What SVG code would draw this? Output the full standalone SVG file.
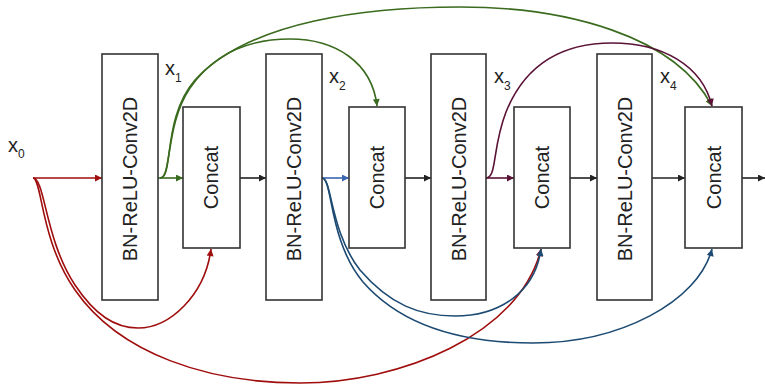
<svg xmlns="http://www.w3.org/2000/svg" width="765" height="387" viewBox="0 0 765 387">
<style>
.box{fill:#fff;stroke:#333;stroke-width:1.6}
.lbl{font-family:"Liberation Sans",Arial,sans-serif;font-size:20px;fill:#222;text-anchor:middle}
.var{font-family:"Liberation Sans",Arial,sans-serif;font-size:20px;fill:#222}
.sub{font-size:12px}
.c{fill:none;stroke-width:1.6}
.red{stroke:#a00d0d}.grn{stroke:#3a6b1e}.blu{stroke:#1c4a72}.blt{stroke:#3b67b0}.pur{stroke:#5a1236}.blk{stroke:#222}
</style>
<defs>
<marker id="ar-red" viewBox="0 0 10 10" refX="10" refY="5" markerWidth="10" markerHeight="7" markerUnits="userSpaceOnUse" orient="auto"><path d="M0,0 L10,5 L0,10 z" fill="#a00d0d"/></marker>
<marker id="ar-grn" viewBox="0 0 10 10" refX="10" refY="5" markerWidth="10" markerHeight="7" markerUnits="userSpaceOnUse" orient="auto"><path d="M0,0 L10,5 L0,10 z" fill="#3a6b1e"/></marker>
<marker id="ar-blu" viewBox="0 0 10 10" refX="10" refY="5" markerWidth="10" markerHeight="7" markerUnits="userSpaceOnUse" orient="auto"><path d="M0,0 L10,5 L0,10 z" fill="#1c4a72"/></marker>
<marker id="ar-blt" viewBox="0 0 10 10" refX="10" refY="5" markerWidth="10" markerHeight="7" markerUnits="userSpaceOnUse" orient="auto"><path d="M0,0 L10,5 L0,10 z" fill="#3b67b0"/></marker>
<marker id="ar-pur" viewBox="0 0 10 10" refX="10" refY="5" markerWidth="10" markerHeight="7" markerUnits="userSpaceOnUse" orient="auto"><path d="M0,0 L10,5 L0,10 z" fill="#5a1236"/></marker>
<marker id="ar-blk" viewBox="0 0 10 10" refX="10" refY="5" markerWidth="10" markerHeight="7" markerUnits="userSpaceOnUse" orient="auto"><path d="M0,0 L10,5 L0,10 z" fill="#222"/></marker>
</defs>

<g id="connectors">
  <!-- main chain -->
  <line class="c red" x1="33" y1="178" x2="102" y2="178" marker-end="url(#ar-red)"/>
  <line class="c grn" x1="158" y1="178" x2="183" y2="178" marker-end="url(#ar-grn)"/>
  <line class="c blk" x1="240" y1="178" x2="266" y2="178" marker-end="url(#ar-blk)"/>
  <line class="c blt" x1="322" y1="178" x2="349" y2="178" marker-end="url(#ar-blt)"/>
  <line class="c blk" x1="405" y1="178" x2="431" y2="178" marker-end="url(#ar-blk)"/>
  <line class="c pur" x1="486" y1="178" x2="514" y2="178" marker-end="url(#ar-pur)"/>
  <line class="c blk" x1="570" y1="178" x2="597" y2="178" marker-end="url(#ar-blk)"/>
  <line class="c blk" x1="652" y1="178" x2="685" y2="178" marker-end="url(#ar-blk)"/>
  <line class="c blk" x1="742" y1="178" x2="765" y2="178" marker-end="url(#ar-blk)"/>
  <!-- x0 skip connections -->
  <path class="c red" d="M33,178 C45,178 45,240 75,285 C95,315 115,328 138,328 C170,328 205,295 211,249" marker-end="url(#ar-red)"/>
  <path class="c red" d="M33,178 C42,178 40,240 75,290 C120,355 210,383 300,383 C400,383 520,335 541,249" marker-end="url(#ar-red)"/>
  <!-- x1 skip connections -->
  <path class="c grn" d="M160,178 C172,178 165,125 190,88 C215,52 250,39 290,39 C335,39 372,62 377,106" marker-end="url(#ar-grn)"/>
  <path class="c grn" d="M160,178 C174,178 162,118 195,80 C250,20 370,7 460,7 C565,7 675,35 712,106" marker-end="url(#ar-grn)"/>
  <!-- x2 skip connections -->
  <path class="c blu" d="M322,178 C332,178 330,232 360,270 C390,305 420,316 455,316 C500,316 535,292 541,249" marker-end="url(#ar-blu)"/>
  <path class="c blu" d="M322,178 C333,178 328,240 363,282 C405,330 470,343 533,343 C620,343 698,302 712,249" marker-end="url(#ar-blu)"/>
  <!-- x3 skip connection -->
  <path class="c pur" d="M486,178 C497,178 492,148 506,112 C525,65 562,43 612,43 C662,43 702,65 712,106" marker-end="url(#ar-pur)"/>
</g>

<g id="bn1"><rect class="box" x="102" y="54" width="56" height="246"/><text class="lbl" transform="translate(137,179) rotate(-90)">BN-ReLU-Conv2D</text></g>
<g id="concat1"><rect class="box" x="183" y="107" width="57" height="141"/><text class="lbl" transform="translate(218,177.5) rotate(-90)">Concat</text></g>
<g id="bn2"><rect class="box" x="266" y="54" width="56" height="246"/><text class="lbl" transform="translate(301,179) rotate(-90)">BN-ReLU-Conv2D</text></g>
<g id="concat2"><rect class="box" x="349" y="107" width="56" height="141"/><text class="lbl" transform="translate(384,177.5) rotate(-90)">Concat</text></g>
<g id="bn3"><rect class="box" x="431" y="54" width="55" height="246"/><text class="lbl" transform="translate(465.5,179) rotate(-90)">BN-ReLU-Conv2D</text></g>
<g id="concat3"><rect class="box" x="514" y="107" width="56" height="141"/><text class="lbl" transform="translate(549,177.5) rotate(-90)">Concat</text></g>
<g id="bn4"><rect class="box" x="597" y="54" width="55" height="246"/><text class="lbl" transform="translate(631.5,179) rotate(-90)">BN-ReLU-Conv2D</text></g>
<g id="concat4"><rect class="box" x="685" y="107" width="57" height="141"/><text class="lbl" transform="translate(720.5,177.5) rotate(-90)">Concat</text></g>

<g id="labels">
  <text class="var" x="8" y="152">x<tspan class="sub" dy="6">0</tspan></text>
  <text class="var" x="165" y="75">x<tspan class="sub" dy="7">1</tspan></text>
  <text class="var" x="329" y="83">x<tspan class="sub" dy="7">2</tspan></text>
  <text class="var" x="494" y="83">x<tspan class="sub" dy="7">3</tspan></text>
  <text class="var" x="660" y="83">x<tspan class="sub" dy="7">4</tspan></text>
</g>
</svg>
